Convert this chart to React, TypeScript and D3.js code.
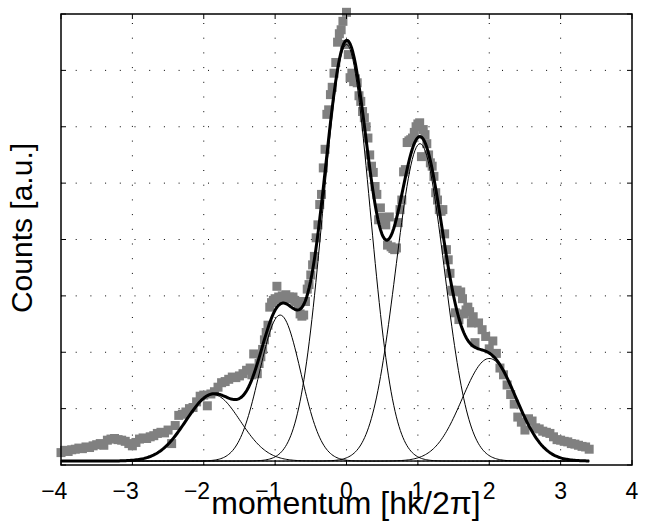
import React from "react";
import * as d3 from "d3";

// ---- data ----
const xTicks = [-4, -3, -2, -1, 0, 1, 2, 3, 4];
const yTicks = [0, 1, 2, 3, 4, 5, 6, 7, 8];
const xTickLabels = ["−4", "−3", "−2", "−1", "0", "1", "2", "3", "4"];

// measured momentum positions of the data points
const countsX = [
  -4.0, -3.95, -3.9, -3.85, -3.8, -3.75, -3.7, -3.65, -3.6, -3.55,
  -3.5, -3.45, -3.4, -3.35, -3.3, -3.25, -3.2, -3.15, -3.1, -3.05,
  -3.0, -2.95, -2.9, -2.85, -2.8, -2.75, -2.7, -2.65, -2.6, -2.55,
  -2.5, -2.45, -2.4, -2.35, -2.3, -2.25, -2.2, -2.15, -2.1, -2.05,
  -2.0, -1.95, -1.9, -1.85, -1.8, -1.75, -1.7, -1.65, -1.6, -1.55,
  -1.5, -1.45, -1.4,
  -1.35, -1.325, -1.3, -1.275, -1.25, -1.225, -1.2, -1.175, -1.15, -1.125,
  -1.1, -1.075, -1.05, -1.025, -1.0, -0.975, -0.95, -0.925, -0.9, -0.875,
  -0.85, -0.825, -0.8, -0.775, -0.75, -0.725, -0.7, -0.675, -0.65, -0.625,
  -0.6, -0.575, -0.55, -0.525, -0.5, -0.475, -0.45, -0.425, -0.4, -0.375,
  -0.35, -0.325, -0.3, -0.275, -0.25, -0.225, -0.2, -0.175, -0.15, -0.125,
  -0.1, -0.075, -0.05, -0.025, 0.0, 0.025, 0.05, 0.075, 0.1, 0.125,
  0.15, 0.175, 0.2, 0.225, 0.25, 0.275, 0.3, 0.325, 0.35, 0.375,
  0.4, 0.425, 0.45, 0.475, 0.5, 0.525, 0.55, 0.575, 0.6, 0.625,
  0.65, 0.675, 0.7, 0.725, 0.75, 0.775, 0.8, 0.825, 0.85, 0.875,
  0.9, 0.925, 0.95, 0.975, 1.0, 1.025, 1.05, 1.075, 1.1, 1.125,
  1.15, 1.175, 1.2, 1.225, 1.25, 1.275, 1.3, 1.325, 1.35, 1.375,
  1.4, 1.425, 1.45, 1.475, 1.5, 1.525, 1.55, 1.575, 1.6, 1.625,
  1.65, 1.675, 1.7, 1.725, 1.75, 1.775, 1.8,
  1.85, 1.9, 1.95, 2.0, 2.05, 2.1, 2.15, 2.2, 2.25, 2.3,
  2.35, 2.4, 2.45, 2.5, 2.55, 2.6, 2.65, 2.7, 2.75, 2.8,
  2.85, 2.9, 2.95, 3.0, 3.05, 3.1, 3.15, 3.2, 3.25, 3.3,
  3.35, 3.4,
];

// measured counts at those positions
const countsY = [
  0.22, 0.26, 0.24, 0.27, 0.28, 0.30, 0.29, 0.32, 0.31, 0.34,
  0.36, 0.38, 0.35, 0.44, 0.46, 0.47, 0.45, 0.44, 0.42, 0.38,
  0.34, 0.40, 0.46, 0.48, 0.47, 0.50, 0.52, 0.56, 0.58, 0.57,
  0.62, 0.38, 0.70, 0.88, 0.90, 0.94, 1.00, 1.02, 1.12, 1.22,
  1.24, 1.05, 1.26, 1.30, 1.38, 1.46, 1.48, 1.52, 1.56, 1.55,
  1.58, 1.62, 1.68,
  1.72, 1.60, 1.97, 1.70, 1.62, 1.80, 1.92, 2.05, 2.22, 2.35,
  2.48, 2.80, 2.88, 2.92, 2.95, 3.17, 2.98, 2.95, 3.00, 2.96,
  3.02, 2.96, 2.98, 2.95, 2.98, 2.92, 2.90, 2.85, 2.68, 2.64,
  2.66, 2.90, 3.12, 3.20, 3.37, 3.55, 3.70, 4.03, 4.26, 4.62,
  4.80, 5.27, 5.60, 6.22, 6.30, 6.57, 6.70, 6.95, 7.14, 7.50,
  7.65, 7.72, 7.87, 7.46, 8.03, 7.28, 6.87, 6.95, 6.80, 6.85,
  6.78, 6.55, 6.45, 6.27, 6.16, 6.00, 5.80, 5.50, 5.30, 5.19,
  4.94, 4.80, 4.35, 4.56, 4.39, 4.30, 4.26, 3.90, 4.40, 3.87,
  3.84, 3.82, 3.85, 4.30, 4.53, 4.70, 5.20, 5.24, 5.72, 5.75,
  5.77, 5.80, 5.90, 6.00, 6.05, 6.07, 5.47, 5.95, 5.86, 5.70,
  5.50, 5.36, 5.30, 5.12, 4.83, 4.70, 4.53, 4.50, 4.53, 4.10,
  3.82, 3.64, 3.40, 3.10, 3.08, 2.70, 3.10, 2.58, 3.07, 2.95,
  2.68, 2.75, 2.80, 2.72, 2.52, 2.63, 2.17,
  2.52, 2.40, 2.28, 2.06, 2.20, 1.98, 1.72, 1.60, 1.42, 1.25,
  1.08, 0.85, 0.76, 0.62, 0.82, 0.78, 0.66, 0.64, 0.60, 0.58,
  0.56, 0.50, 0.45, 0.44, 0.42, 0.41, 0.38, 0.37, 0.35, 0.33,
  0.32, 0.28,
];

// fitted Gaussian components
const peakCenters = [-1.87, -0.93, 0.0, 1.03, 2.0];
const peakAmps = [1.18, 2.59, 7.39, 5.63, 1.82];
const peakWidths = [0.38, 0.29, 0.33, 0.34, 0.38];
const fitBaseline = 0.07;
const fitRange = [-4, 3.4];

const W = 654;
const H = 521;
const M = { left: 61, right: 632, top: 14, bottom: 465 };
const FONT = "'Liberation Sans', Arial, Helvetica, sans-serif";

export default function App() {
  const x = d3.scaleLinear().domain([-4, 4]).range([M.left, M.right]);
  const y = d3.scaleLinear().domain([0, 8]).range([M.bottom, M.top]);

  const pts = countsX.map((v, i) => ({ x: v, y: countsY[i] }));

  const gauss = (k: number, v: number) =>
    peakAmps[k] * Math.exp(-((v - peakCenters[k]) ** 2) / (2 * peakWidths[k] ** 2));
  const grid = d3.range(0, 401).map((i) => fitRange[0] + ((fitRange[1] - fitRange[0]) * i) / 400);

  const line = d3
    .line<[number, number]>()
    .x((d) => x(d[0]))
    .y((d) => y(d[1]));

  const compPaths = peakCenters.map((_, k) =>
    line(grid.map((v) => [v, fitBaseline + gauss(k, v)] as [number, number]))
  );
  const sumPath = line(
    grid.map(
      (v) =>
        [v, fitBaseline + peakCenters.reduce((s, _, k) => s + gauss(k, v), 0)] as [number, number]
    )
  );

  const sq = 9;
  const tickLen = 5;

  return (
    <svg
      width={W}
      height={H}
      style={{ position: "absolute", left: 0, top: 0, background: "#fff" }}
      fontFamily={FONT}
    >
      <rect x={0} y={0} width={W} height={H} fill="#fff" />
      {/* grid */}
      <g stroke="#000" strokeWidth={1} strokeDasharray="1 13.7">
        {xTicks.slice(1, -1).map((t) => (
          <line key={"gx" + t} x1={x(t)} x2={x(t)} y1={M.bottom} y2={M.top} />
        ))}
        {yTicks.slice(1, -1).map((t) => (
          <line key={"gy" + t} x1={M.left} x2={M.right} y1={y(t)} y2={y(t)} />
        ))}
      </g>
      {/* data squares */}
      <g fill="#808080">
        {pts.map((p, i) => (
          <rect key={i} x={x(p.x) - sq / 2} y={y(p.y) - sq / 2} width={sq} height={sq} />
        ))}
      </g>
      {/* components */}
      <g fill="none" stroke="#000" strokeWidth={1}>
        {compPaths.map((d, k) => (
          <path key={k} d={d || ""} />
        ))}
      </g>
      <path d={sumPath || ""} fill="none" stroke="#000" strokeWidth={3} strokeLinejoin="round" />
      {/* ticks */}
      <g stroke="#000" strokeWidth={1}>
        {xTicks.map((t) => (
          <g key={"tx" + t}>
            <line x1={x(t)} x2={x(t)} y1={M.bottom} y2={M.bottom - tickLen} />
            <line x1={x(t)} x2={x(t)} y1={M.top} y2={M.top + tickLen} />
          </g>
        ))}
        {yTicks.map((t) => (
          <g key={"ty" + t}>
            <line x1={M.left} x2={M.left + tickLen} y1={y(t)} y2={y(t)} />
            <line x1={M.right} x2={M.right - tickLen} y1={y(t)} y2={y(t)} />
          </g>
        ))}
      </g>
      {/* box */}
      <rect
        x={M.left}
        y={M.top}
        width={M.right - M.left}
        height={M.bottom - M.top}
        fill="none"
        stroke="#000"
        strokeWidth={1.5}
      />
      {/* tick labels: digit centred on tick, minus hangs left */}
      <g fontSize={23} fill="#000">
        {xTickLabels.map((lab, i) => (
          <text key={"lx" + i} x={x(xTicks[i]) + 6.4} y={499} textAnchor="end">
            {lab}
          </text>
        ))}
      </g>
      <text x={346} y={514} fontSize={32} textAnchor="middle" fill="#000">
        momentum [hk/2π]
      </text>
      <text
        transform={`translate(32,228) rotate(-90)`}
        fontSize={30}
        textAnchor="middle"
        fill="#000"
      >
        Counts [a.u.]
      </text>
    </svg>
  );
}
